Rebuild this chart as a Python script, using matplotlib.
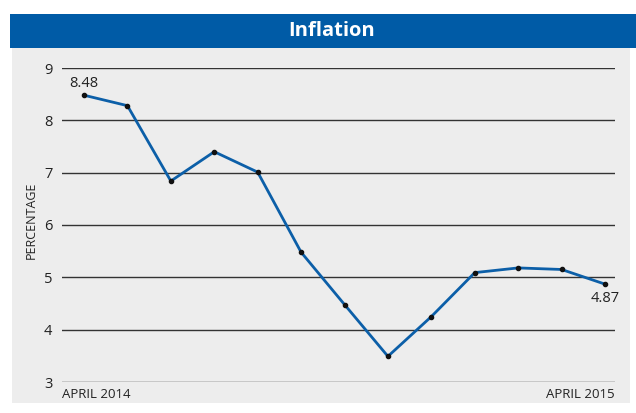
import matplotlib

matplotlib.use("Agg")
import matplotlib.pyplot as plt
from matplotlib.patches import Rectangle

months = ["APRIL 2014", "MAY", "JUN", "JUL", "AUG", "SEP", "OCT", "NOV", "DEC", "JAN", "FEB", "MAR", "APRIL 2015"]
inflation = [8.48, 8.28, 6.84, 7.40, 7.01, 5.48, 4.48, 3.49, 4.25, 5.09, 5.18, 5.15, 4.87]
y_ticks = [3, 4, 5, 6, 7, 8, 9]

plt.rcParams["font.family"] = ["Open Sans", "DejaVu Sans"]

W, H = 636, 413
fig = plt.figure(figsize=(W / 100, H / 100), dpi=100)

# gray panel and blue title bar
fig.patches.append(Rectangle((12 / W, 10 / H), 618 / W, 355 / H, transform=fig.transFigure,
                             facecolor="#ededed", edgecolor="none", zorder=-2))
fig.patches.append(Rectangle((10 / W, (H - 48) / H), 626 / W, 34 / H, transform=fig.transFigure,
                             facecolor="#005ba6", edgecolor="none", zorder=-1))
fig.text(332 / W, (H - 31) / H, "Inflation", color="white", fontsize=14.5, fontweight="bold",
         ha="center", va="center")

ax = fig.add_axes([62 / W, (H - 382) / H, (615 - 62) / W, (382 - 68) / H])
ax.set_zorder(2)
ax.set_facecolor("none")
x = list(range(len(inflation)))
ax.plot(x, inflation, color="#0c5fa8", linewidth=2.0, zorder=3)
ax.scatter(x, inflation, s=9, color="#111111", zorder=4)

ax.set_ylim(3, 9)
ax.set_xlim(-0.507, 12.23)
ax.set_yticks(y_ticks)
ax.set_xticks([])
for v in y_ticks:
    ax.axhline(v, color="#333333", linewidth=1.0, zorder=1)
for s in ax.spines.values():
    s.set_visible(False)
ax.tick_params(axis="y", length=0, pad=7, labelsize=10.5, labelcolor="#222222")

ax.text(x[0], inflation[0] + 0.22, f"{inflation[0]:.2f}", ha="center", va="center", fontsize=10.5, color="#222222")
ax.text(x[-1], inflation[-1] - 0.27, f"{inflation[-1]:.2f}", ha="center", va="center", fontsize=10.5, color="#222222")
ax.text(0, -0.02, months[0], transform=ax.transAxes, ha="left", va="top", fontsize=9.5, color="#222222")
ax.text(1, -0.02, months[-1], transform=ax.transAxes, ha="right", va="top", fontsize=9.5, color="#222222")
ax.set_ylabel("PERCENTAGE", fontsize=9, color="#222222")
ax.yaxis.set_label_coords(-0.044, 0.516)

fig.savefig("out.png", dpi=100)
